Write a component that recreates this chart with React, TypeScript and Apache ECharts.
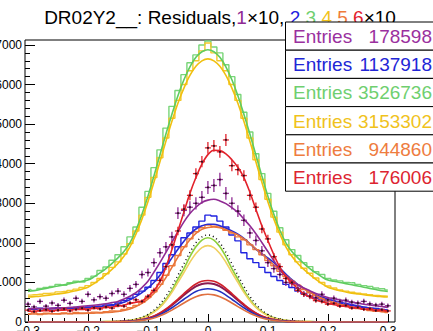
import React, { useEffect, useRef } from "react";
import * as echarts from "echarts";

// bin centres (x)
const BIN_X = [-0.30,-0.29,-0.28,-0.27,-0.26,-0.25,-0.24,-0.23,-0.22,-0.21,-0.20,-0.19,-0.18,-0.17,-0.16,-0.15,-0.14,-0.13,-0.12,-0.11,-0.10,-0.09,-0.08,-0.07,-0.06,-0.05,-0.04,-0.03,-0.02,-0.01,0,0.01,0.02,0.03,0.04,0.05,0.06,0.07,0.08,0.09,0.10,0.11,0.12,0.13,0.14,0.15,0.16,0.17,0.18,0.19,0.20,0.21,0.22,0.23,0.24,0.25,0.26,0.27,0.28,0.29,0.30];

// histograms (steps)
const GREEN_HIST = [820,800,850,870,900,950,930,990,1030,1010,1100,1160,1300,1390,1560,1700,1900,2150,2400,2900,3300,3900,4350,4900,5450,5850,6250,6550,6750,7000,7100,6950,6800,6500,6200,5750,5300,4800,4250,3750,3250,2800,2380,2080,1830,1680,1500,1400,1270,1200,1100,1060,1040,1000,990,950,920,900,860,840,810];
const YELLOW_HIST = [680,690,700,720,730,760,770,800,830,870,920,1000,1100,1220,1380,1520,1720,1980,2300,2700,3150,3650,4150,4650,5150,5600,6000,6350,6600,6850,7050,6800,6600,6350,6000,5600,5150,4650,4100,3600,3100,2650,2270,1950,1700,1520,1360,1230,1110,1000,910,860,810,780,750,730,710,690,670,660,650];
const BLUE_HIST = [340,320,350,330,340,360,330,350,370,360,380,390,400,430,440,480,540,600,700,780,880,1050,1250,1480,1700,1900,2130,2250,2400,2550,2700,2680,2550,2400,2200,2050,1750,1600,1500,1380,1250,1150,1050,950,870,780,720,650,600,560,530,490,460,440,410,390,370,350,340,320,300];
const ORANGE_HIST = [200,230,190,220,210,200,230,210,240,220,230,250,240,260,280,270,320,360,420,500,620,760,950,1180,1420,1680,1900,2100,2280,2380,2450,2420,2400,2320,2250,2150,2080,1950,1830,1700,1550,1420,1280,1150,1030,930,820,740,660,590,530,480,440,400,370,340,320,290,270,260,240];

// points with error bars (x10)
const PURPLE_DATA = [450,380,520,400,480,420,550,470,600,520,700,560,640,600,720,780,700,850,950,1200,1250,1500,1750,1900,2150,2750,2820,2900,3000,3150,3400,3450,3600,3250,3000,2800,2570,2250,2060,1800,1500,1350,1200,1000,970,850,710,650,610,700,560,600,520,550,500,480,520,460,430,450,410];
const RED_DATA = [300,260,290,310,270,300,330,280,320,350,300,360,330,380,350,420,400,480,560,520,650,800,1050,1400,1950,2300,2850,3200,3750,4050,4400,4450,4300,4600,3950,3850,3700,3200,2900,2350,2100,1650,1400,1100,1000,800,700,650,540,520,450,470,400,420,350,370,320,340,290,310,280];

// fitted curves
const GREEN_FIT = [770,790,820,850,880,910,940,970,1000,1030,1060,1140,1240,1350,1480,1620,1780,2000,2320,2720,3180,3690,4220,4750,5250,5720,6120,6450,6690,6830,6880,6830,6690,6450,6120,5720,5250,4750,4220,3690,3180,2720,2320,2000,1780,1620,1480,1350,1240,1140,1060,1030,1000,970,940,910,880,850,820,790,770];
const YELLOW_FIT = [630,640,650,670,690,710,730,760,790,830,880,970,1080,1200,1330,1480,1660,1900,2220,2600,3040,3530,4050,4570,5070,5530,5910,6230,6460,6600,6650,6600,6460,6230,5910,5530,5070,4570,4050,3530,3040,2600,2220,1900,1660,1480,1330,1200,1080,970,880,830,790,760,730,710,690,670,650,640,630];
const BLUE_FIT = [330,332,334,336,338,340,342,345,348,352,360,370,385,400,420,450,500,560,640,740,860,1000,1180,1400,1620,1840,2040,2220,2350,2430,2470,2470,2430,2370,2300,2220,2110,1980,1840,1720,1620,1500,1360,1210,1070,950,850,760,690,630,580,540,500,470,440,410,380,355,335,315,300];
const ORANGE_FIT = [200,202,204,206,208,210,212,214,216,218,220,225,230,240,250,265,290,330,390,470,580,720,900,1120,1380,1640,1880,2080,2240,2340,2390,2400,2380,2330,2270,2200,2100,1980,1850,1720,1580,1440,1300,1170,1050,940,840,750,670,600,540,490,450,410,380,350,325,300,280,265,250];
const PURPLE_FIT = [330,335,340,345,350,355,360,370,380,395,410,425,440,460,490,520,580,650,740,870,1030,1260,1500,1760,2020,2280,2530,2740,2900,3020,3080,3100,3060,2990,2890,2770,2600,2430,2230,2010,1780,1550,1320,1160,1040,940,860,790,720,670,620,590,560,530,500,475,450,430,410,390,370];
const RED_FIT = [270,275,280,285,290,295,300,305,315,320,330,340,350,365,380,400,430,470,500,530,640,790,1020,1390,1830,2300,2780,3250,3650,3990,4230,4340,4330,4250,4100,3910,3650,3280,2850,2430,2060,1700,1380,1150,990,840,710,630,560,510,470,440,410,390,370,350,330,315,300,290,280];

// narrow components
const GREEN_NARROW = [2,2,2,2,2,3,3,3,4,4,5,6,8,10,14,20,30,45,70,110,170,260,390,570,800,1080,1350,1650,1900,2070,2130,2070,1900,1650,1350,1080,800,570,390,260,170,110,70,45,30,20,14,10,8,6,5,4,4,3,3,3,2,2,2,2,2];
const YELLOW_NARROW = [2,2,2,2,2,2,3,3,3,4,4,5,7,9,12,18,28,40,65,100,160,250,370,540,750,1000,1250,1510,1730,1880,1930,1880,1730,1510,1250,1000,750,540,370,250,160,100,65,40,28,18,12,9,7,5,4,4,3,3,3,2,2,2,2,2,2];
const BLACK_NARROW = [1,1,1,1,1,2,2,2,2,3,3,4,5,7,10,15,28,45,75,120,190,300,450,650,900,1180,1470,1760,2000,2150,2200,2150,2000,1760,1470,1180,900,650,450,300,190,120,75,45,28,15,10,7,5,4,3,3,2,2,2,2,1,1,1,1,1];
const RED_SMALL = [1,1,1,1,1,1,1,1,1,1,1,2,2,3,4,6,12,20,35,60,100,150,230,330,450,580,720,850,960,1030,1050,1030,960,850,720,580,450,330,230,150,100,60,35,20,12,6,4,3,2,2,1,1,1,1,1,1,1,1,1,1,1];
const PURPLE_SMALL = [1,1,1,1,1,1,1,1,1,1,1,1,2,2,3,5,10,18,32,55,90,140,215,310,425,550,680,800,900,960,980,960,900,800,680,550,425,310,215,140,90,55,32,18,10,5,3,2,2,1,1,1,1,1,1,1,1,1,1,1,1];
const BLUE_SMALL = [1,1,1,1,1,1,1,1,1,1,1,1,2,2,3,5,10,17,30,50,80,120,185,265,360,465,575,680,770,820,840,820,770,680,575,465,360,265,185,120,80,50,30,17,10,5,3,2,2,1,1,1,1,1,1,1,1,1,1,1,1];
const ORANGE_SMALL = [1,1,1,1,1,1,1,1,1,1,1,1,1,2,3,4,8,14,25,40,65,100,155,220,300,390,480,570,640,685,700,685,640,570,480,390,300,220,155,100,65,40,25,14,8,4,3,2,1,1,1,1,1,1,1,1,1,1,1,1,1];

const STAT_ENTRIES = ["178598", "1137918", "3526736", "3153302", "944860", "176006"];

const FONT = '"Liberation Sans", Arial, Helvetica, sans-serif';
const C = {
  purple: "#8f2a93",
  blue: "#1f22e0",
  green: "#6fcf6f",
  yellow: "#f2c31a",
  orange: "#ef7b3b",
  red: "#e2222b",
};
const STAT_COLORS = ["#9a309e", "#2226d6", "#6fcf6f", "#f0c21c", "#ee7c3e", "#dd2430"];

function pts(ys: number[]) {
  return BIN_X.map((x, i) => [x, ys[i]]);
}

function hist(name: string, ys: number[], color: string, width = 1.4) {
  return {
    type: "line", name, data: pts(ys), step: "middle", symbol: "none", showSymbol: false,
    lineStyle: { color, width }, xAxisIndex: 0, yAxisIndex: 0, silent: true, z: 2,
  };
}

function fit(name: string, ys: number[], color: string, width = 1.6, extra: any = {}) {
  return {
    type: "line", name, data: pts(ys), smooth: 0.35, symbol: "none", showSymbol: false,
    lineStyle: { color, width, ...extra }, xAxisIndex: 0, yAxisIndex: 0, silent: true, z: 3,
  };
}

function errSeries(name: string, ys: number[], color: string, k: number) {
  return {
    type: "custom", name, xAxisIndex: 0, yAxisIndex: 0, clip: true, silent: true, z: 4,
    data: BIN_X.map((x, i) => [x, ys[i], Math.sqrt(ys[i] * k)]),
    renderItem: (_params: any, api: any) => {
      const x = api.value(0);
      const y = api.value(1);
      const e = api.value(2);
      const c = api.coord([x, y]);
      const t = api.coord([x, y + e]);
      const b = api.coord([x, y - e]);
      const l = api.coord([x - 0.005, y]);
      const r = api.coord([x + 0.005, y]);
      return {
        type: "group",
        children: [
          { type: "line", shape: { x1: t[0], y1: t[1], x2: b[0], y2: b[1] }, style: { stroke: color, lineWidth: 1.3 } },
          { type: "line", shape: { x1: l[0], y1: l[1], x2: r[0], y2: r[1] }, style: { stroke: color, lineWidth: 1.3 } },
          { type: "circle", shape: { cx: c[0], cy: c[1], r: 1 }, style: { fill: "#2a1020" } },
        ],
      };
    },
  };
}

function fmtX(v: number) {
  if (Math.abs(v) < 1e-9) return "0";
  const s = Math.abs(v).toFixed(1);
  return v < 0 ? "\u2212" + s : s;
}

export default function App() {
  const ref = useRef<HTMLDivElement>(null);
  useEffect(() => {
    if (!ref.current) return;
    const chart = echarts.init(ref.current, undefined, { renderer: "svg" });

    const statElems: any[] = [];
    STAT_ENTRIES.forEach((val, i) => {
      const top = 22 + i * 28.2;
      statElems.push({
        type: "rect", z: 100,
        shape: { x: 285.5, y: top, width: 160, height: 28.2 },
        style: { fill: "#fff", stroke: "#000", lineWidth: 1 },
      });
      statElems.push({
        type: "text", z: 101, x: 293, y: top + 14.5,
        style: { text: "Entries", fill: STAT_COLORS[i], font: `19px ${FONT}`, align: "left", verticalAlign: "middle" },
      });
      statElems.push({
        type: "text", z: 101, x: 432, y: top + 14.5,
        style: { text: val, fill: STAT_COLORS[i], font: `19px ${FONT}`, align: "right", verticalAlign: "middle" },
      });
    });

    const rs = (fill: string) => ({ fill, fontSize: 19, fontFamily: FONT });

    chart.setOption({
      animation: false,
      backgroundColor: "#fff",
      textStyle: { fontFamily: FONT },
      grid: [
        { left: 25, top: 40, width: 370, height: 282, show: true, borderColor: "#000", borderWidth: 1, backgroundColor: "transparent", outerBoundsMode: "none", containLabel: false },
        { left: 25, top: 45, width: 370, height: 277, outerBoundsMode: "none", containLabel: false },
        { left: 28, top: 40, width: 360, height: 282, outerBoundsMode: "none", containLabel: false },
      ],
      xAxis: [
        { gridIndex: 0, type: "value", min: -0.305, max: 0.312, show: false },
        { gridIndex: 1, type: "value", min: -0.3, max: 0.3, show: false },
        {
          gridIndex: 2, type: "value", min: -0.3, max: 0.3, interval: 0.1, position: "bottom",
          axisLine: { show: false, onZero: false },
          axisTick: { show: true, inside: true, length: 8, lineStyle: { color: "#000", width: 1 } },
          minorTick: { show: true, splitNumber: 5, length: 4, lineStyle: { color: "#000", width: 1 } },
          splitLine: { show: false }, minorSplitLine: { show: false },
          axisLabel: { show: true, fontSize: 12, color: "#000", margin: 3, fontFamily: FONT, formatter: fmtX, showMinLabel: true, showMaxLabel: true },
        },
      ],
      yAxis: [
        { gridIndex: 0, type: "value", min: 0, max: 7126, show: false },
        {
          gridIndex: 1, type: "value", min: 0, max: 7000, interval: 1000, position: "left",
          axisLine: { show: false, onZero: false },
          axisTick: { show: true, inside: true, length: 10, lineStyle: { color: "#000", width: 1 } },
          minorTick: { show: true, splitNumber: 5, length: 5, lineStyle: { color: "#000", width: 1 } },
          splitLine: { show: false }, minorSplitLine: { show: false },
          axisLabel: { show: true, fontSize: 12, color: "#000", margin: 3, fontFamily: FONT, formatter: (v: number) => String(v), showMinLabel: true, showMaxLabel: true },
        },
        { gridIndex: 2, type: "value", min: 0, max: 7000, show: false },
      ],
      series: [
        hist("green hist", GREEN_HIST, "#78d578"),
        hist("yellow hist", YELLOW_HIST, "#f4c82a"),
        hist("blue hist", BLUE_HIST, C.blue),
        hist("orange hist", ORANGE_HIST, C.orange),
        fit("green fit", GREEN_FIT, "#5fcc5f"),
        fit("yellow fit", YELLOW_FIT, "#f0c010"),
        fit("blue fit", BLUE_FIT, "#2a2ad0"),
        fit("orange fit", ORANGE_FIT, "#e8743a"),
        fit("green narrow", GREEN_NARROW, "#8ccf3a"),
        fit("yellow narrow", YELLOW_NARROW, "#f0d060"),
        fit("black narrow", BLACK_NARROW, "#111", 1.5, { type: [1, 3] }),
        fit("purple small", PURPLE_SMALL, "#8a1a50", 2),
        fit("red small", RED_SMALL, "#d0202a", 1.6),
        fit("blue small", BLUE_SMALL, "#2030c0", 1.6),
        fit("orange small", ORANGE_SMALL, "#e07040", 1.6),
        errSeries("purple x10", PURPLE_DATA, C.purple, 8),
        errSeries("red x10", RED_DATA, C.red, 5),
        fit("purple fit", PURPLE_FIT, C.purple, 1.6),
        fit("red fit", RED_FIT, C.red, 1.6),
      ],
      graphic: [
        {
          type: "text", z: 50, x: 220, y: 17,
          style: {
            text: "{k|DR02Y2__: Residuals,}{p|1}{k|\u00d710, }{b|2}{k|,}{g|3}{k|,}{y|4}{k|,}{o|5}{k|,}{r|6}{k|\u00d710}",
            align: "center", verticalAlign: "middle", font: `19px ${FONT}`, fill: "#000",
            rich: {
              k: rs("#000"), p: rs(C.purple), b: rs(C.blue), g: rs(C.green),
              y: rs(C.yellow), o: rs(C.orange), r: rs(C.red),
            },
          },
        },
        ...statElems,
      ],
    });
    return () => chart.dispose();
  }, []);
  return (
    <div
      ref={ref}
      style={{ position: "fixed", left: 0, top: 0, width: 433, height: 331, background: "#fff" }}
    />
  );
}
